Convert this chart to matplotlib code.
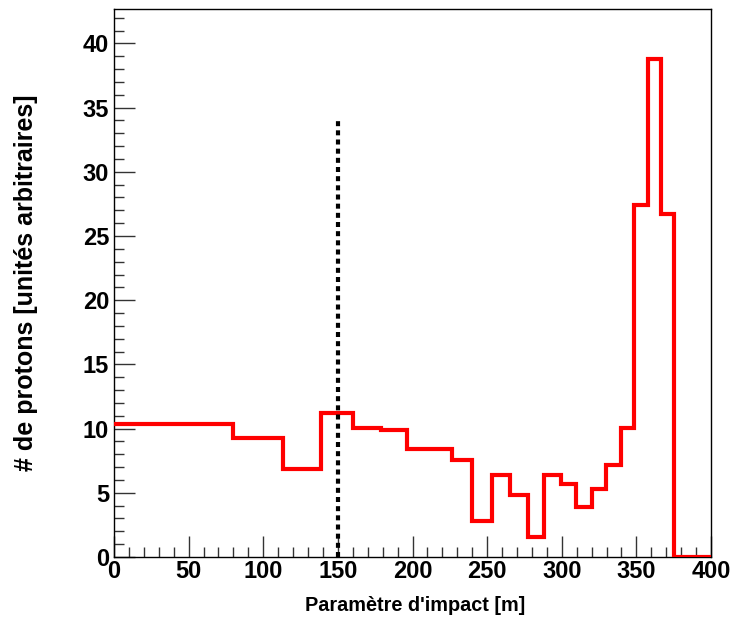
import matplotlib
matplotlib.use("Agg")
import matplotlib.pyplot as plt
from matplotlib.ticker import MultipleLocator

plt.rcParams['font.family'] = ['Liberation Sans', 'DejaVu Sans']

# Impact-parameter bin edges [m] (equal-area rings) and proton counts per bin
bin_edges = [0, 80, 113.1, 138.6, 160, 178.9, 196, 211.7, 226.3, 240, 253,
             265.3, 277.1, 288.4, 299.3, 309.8, 320, 329.8, 339.4, 348.7,
             357.8, 366.6, 375.2, 383.7, 391.9, 400]
protons = [10.34, 9.30, 6.83, 11.25, 10.08, 9.87, 8.39, 8.44, 7.58, 2.81,
           6.36, 4.81, 1.58, 6.36, 5.71, 3.90, 5.32, 7.17, 10.03, 27.4,
           38.8, 26.7, 0, 0, 0]

# Reference impact parameter marker
marker_x = 150
marker_top = 34.3

x_label = "Paramètre d'impact [m]"
y_label = "# de protons [unités arbitraires]"

tick_font = ['Liberation Sans Narrow', 'Liberation Sans', 'DejaVu Sans']

fig = plt.figure(figsize=(7.30, 6.21), dpi=100)
ax = fig.add_axes([114/730, 1 - 557/621, (711 - 114)/730, (557 - 9)/621])

ax.stairs(protons, bin_edges, baseline=None, color='#ff0000', linewidth=3.0,
          zorder=3)
ax.plot([marker_x, marker_x], [0, marker_top], color='black', linewidth=3.0,
        linestyle=(0, (1.2, 1.0)), zorder=4)

ax.set_xlim(0, 400)
ax.set_ylim(0, 1.1 * max(protons))

ax.xaxis.set_major_locator(MultipleLocator(50))
ax.xaxis.set_minor_locator(MultipleLocator(10))
ax.yaxis.set_major_locator(MultipleLocator(5))
ax.yaxis.set_minor_locator(MultipleLocator(1))

ax.tick_params(axis='both', which='major', direction='in', length=15,
               width=1.0, color='#333333')
ax.tick_params(axis='both', which='minor', direction='in', length=7.5,
               width=1.0, color='#333333')
ax.tick_params(axis='x', which='both', pad=2)
ax.tick_params(axis='y', which='both', pad=3.5)
for lbl in ax.get_xticklabels() + ax.get_yticklabels():
    lbl.set_fontweight('bold')
    lbl.set_fontsize(17)
    lbl.set_family(tick_font)

for side in ('left', 'bottom', 'right', 'top'):
    ax.spines[side].set_linewidth(1.0)
    ax.spines[side].set_color('black')

ax.set_xlabel(x_label, fontsize=14.3, fontweight='bold', va='baseline')
ax.xaxis.set_label_coords(0.505, -0.0985)
ax.set_ylabel(y_label, fontsize=18, fontweight='bold', va='center')
ax.yaxis.set_label_coords(-0.148, 0.5)

fig.savefig('out.png', dpi=100, facecolor='white')
